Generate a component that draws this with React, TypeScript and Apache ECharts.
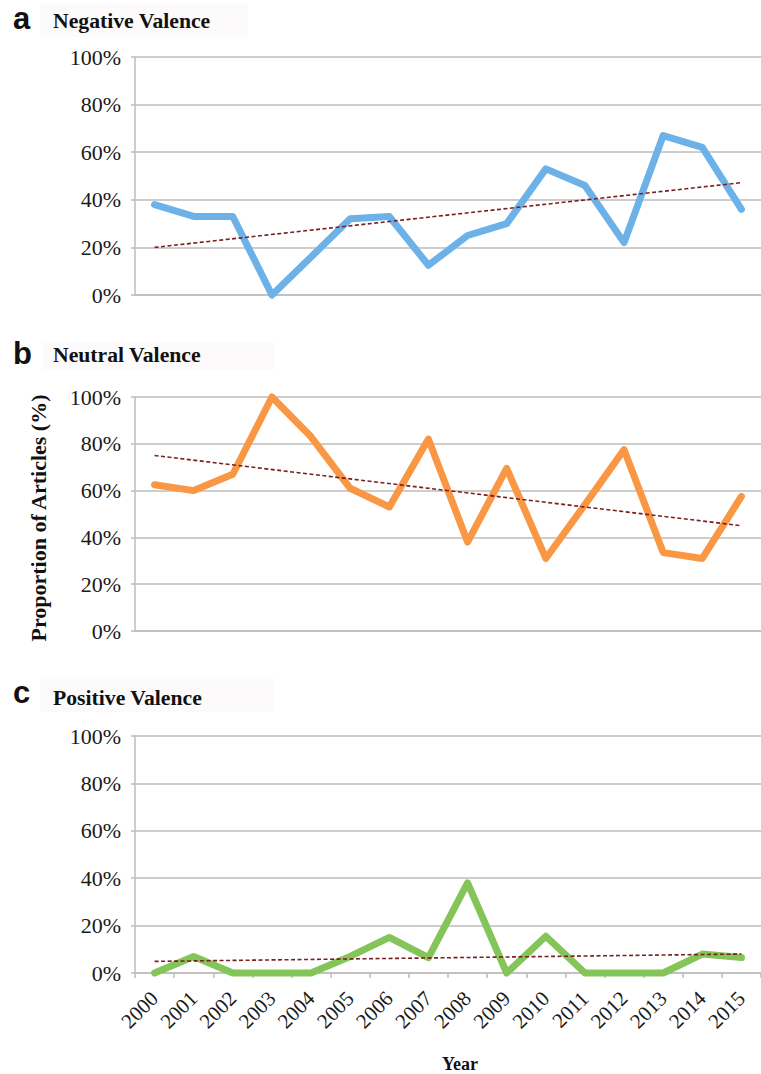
import React, { useEffect, useRef } from "react";
import * as echarts from "echarts";

const years = ["2000", "2001", "2002", "2003", "2004", "2005", "2006", "2007", "2008", "2009", "2010", "2011", "2012", "2013", "2014", "2015"];
const negative = [38, 33, 33, 0, 16, 32, 33, 12.5, 25, 30, 53, 46, 22, 67, 62, 36];
const neutral = [62.5, 60, 67, 100, 83, 61, 53, 82, 38, 69.5, 31, 54, 77.5, 33.5, 31, 57.5];
const positive = [0, 7, 0, 0, 0, 7, 15, 6.5, 38, 0, 15.5, 0, 0, 0, 8, 6.5];
// trend line end points (first year, last year)
const negativeTrend = [20, 47.2];
const neutralTrend = [75, 45];
const positiveTrend = [4.9, 8];
const panelLetters = ["a", "b", "c"];
const panelTitles = ["Negative Valence", "Neutral Valence", "Positive Valence"];

const SERIF = "'Liberation Serif', 'Times New Roman', serif";
const SANS = "'Liberation Sans', Arial, sans-serif";

export default function App() {
  const ref = useRef<HTMLDivElement>(null);
  useEffect(() => {
    const chart = echarts.init(ref.current!, null, { renderer: "svg" });
    const grids = [
      { left: 135, top: 57, width: 632, height: 238 },
      { left: 135, top: 397, width: 632, height: 234 },
      { left: 135, top: 736, width: 632, height: 237 },
    ];
    const gray = "#BDBDBD";
    const xAxes = grids.map((_, i) => ({
      type: "category" as const,
      gridIndex: i,
      data: years,
      boundaryGap: true,
      axisLine: { show: true, lineStyle: { color: gray, width: 1.5 } },
      axisTick: { show: i === 2, length: 5, lineStyle: { color: gray, width: 1.5 } },
      axisLabel: {
        show: i === 2,
        rotate: 45,
        margin: 22,
        fontFamily: SERIF,
        fontSize: 21,
        color: "#1a1a1a",
        interval: 0,
      },
      splitLine: { show: false },
    }));
    const yAxes = grids.map((_, i) => ({
      type: "value" as const,
      gridIndex: i,
      min: 0,
      max: 100,
      interval: 20,
      axisLine: { show: true, lineStyle: { color: gray, width: 1.5 } },
      axisTick: { show: true, length: 4, lineStyle: { color: gray, width: 1.5 } },
      axisLabel: {
        formatter: "{value}%",
        fontFamily: SERIF,
        fontSize: 22,
        color: "#1a1a1a",
        margin: 14,
      },
      splitLine: { show: true, lineStyle: { color: gray, width: 1.5 } },
    }));
    const mainColors = ["#6CB2E8", "#F99745", "#84C55A"];
    const values = [negative, neutral, positive];
    const trends = [negativeTrend, neutralTrend, positiveTrend];
    const series: any[] = [];
    values.forEach((v, i) => {
      series.push({
        type: "line",
        xAxisIndex: i,
        yAxisIndex: i,
        data: v,
        symbol: "none",
        clip: false,
        lineStyle: { color: mainColors[i], width: 7, cap: "round", join: "round" },
        z: 3,
      });
      series.push({
        type: "line",
        xAxisIndex: i,
        yAxisIndex: i,
        data: [
          [years[0], trends[i][0]],
          [years[years.length - 1], trends[i][1]],
        ],
        symbol: "none",
        clip: false,
        lineStyle: { color: "#7A1E1E", width: 1.6, type: [4, 2.5] },
        z: 4,
      });
    });
    const letterCenters = [18, 353, 692.5];
    const titleCenters = [21, 355, 698];
    const boxes = [
      { x: 40, y: 4, w: 208, h: 33 },
      { x: 43, y: 342, w: 232, h: 28 },
      { x: 40, y: 677, w: 233, h: 35 },
    ];
    const graphic: any[] = [];
    boxes.forEach((b) => {
      graphic.push({
        type: "rect",
        shape: { x: b.x, y: b.y, width: b.w, height: b.h },
        style: { fill: "#FCFAFA" },
        z: 0,
      });
    });
    panelLetters.forEach((l, i) => {
      graphic.push({
        type: "text",
        x: 13,
        y: letterCenters[i],
        style: {
          text: l,
          fontFamily: SANS,
          fontWeight: "bold",
          fontSize: 31,
          fill: "#111",
          textVerticalAlign: "middle",
        },
        z: 10,
      });
      graphic.push({
        type: "text",
        x: 53,
        y: titleCenters[i],
        style: {
          text: panelTitles[i],
          fontFamily: SERIF,
          fontWeight: "bold",
          fontSize: 21.7,
          fill: "#111",
          textVerticalAlign: "middle",
        },
        z: 10,
      });
    });
    graphic.push({
      type: "text",
      x: 38,
      y: 518,
      rotation: Math.PI / 2,
      style: {
        text: "Proportion of Articles (%)",
        fontFamily: SERIF,
        fontWeight: "bold",
        fontSize: 22,
        fill: "#111",
        textAlign: "center",
        textVerticalAlign: "middle",
      },
      z: 10,
    });
    graphic.push({
      type: "text",
      x: 460,
      y: 1064,
      style: {
        text: "Year",
        fontFamily: SERIF,
        fontWeight: "bold",
        fontSize: 18,
        fill: "#111",
        textAlign: "center",
        textVerticalAlign: "middle",
      },
      z: 10,
    });
    chart.setOption({
      animation: false,
      backgroundColor: "#ffffff",
      grid: grids,
      xAxis: xAxes,
      yAxis: yAxes,
      series,
      graphic,
    });
    return () => chart.dispose();
  }, []);
  return (
    <div
      ref={ref}
      style={{ position: "absolute", left: 0, top: 0, width: 761, height: 1074 }}
    />
  );
}
